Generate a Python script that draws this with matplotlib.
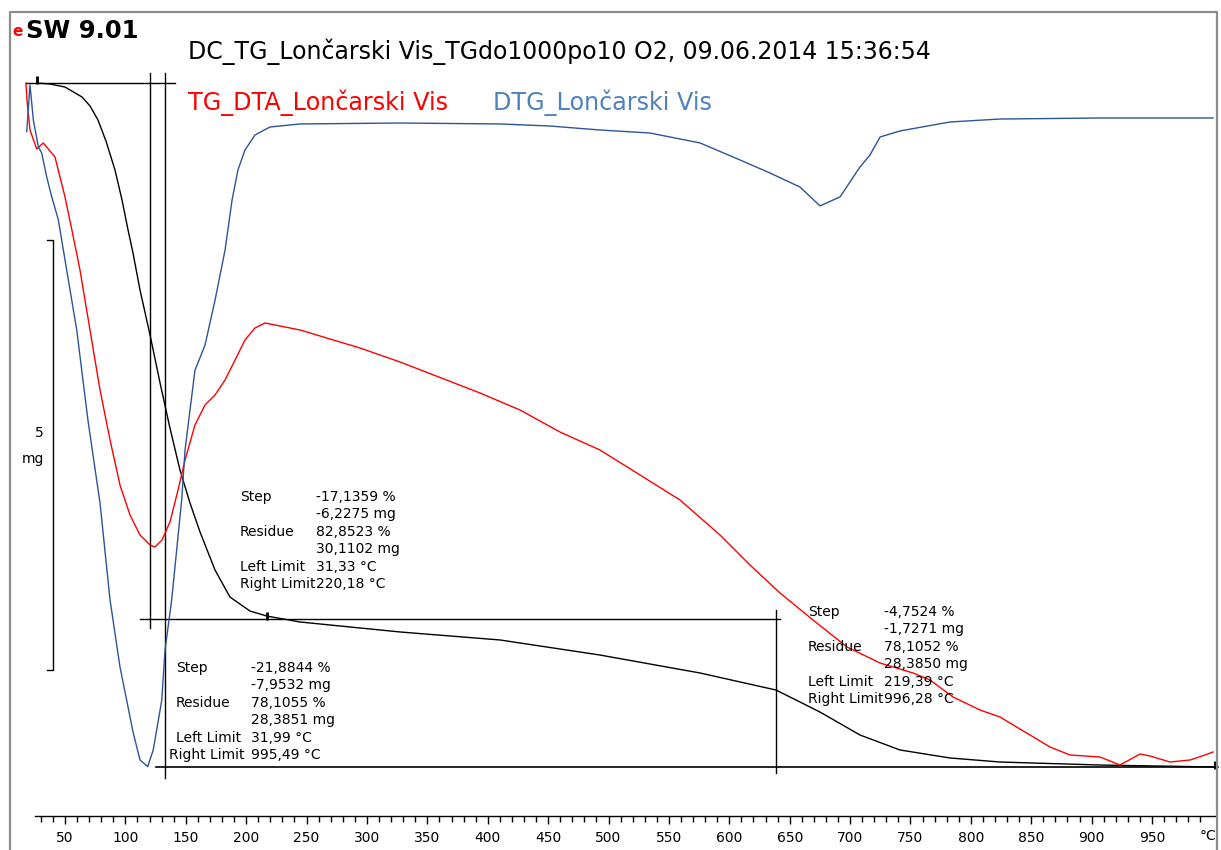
import matplotlib
matplotlib.use('Agg')
import matplotlib.pyplot as plt
from matplotlib.lines import Line2D
from matplotlib.ticker import FixedLocator

# TG (mg) vs temperature (°C)
tg_temp = [26.8, 37.6, 50.0, 64.1, 70.7, 77.3, 83.9, 91.4, 97.2, 102.2, 106.3, 112.1, 120.4,
           128.7, 136.9, 145.2, 153.5, 161.8, 174.2, 186.6, 203.2, 217.2, 244.6, 327.4,
           410.2, 492.9, 575.8, 638.7, 675.1, 708.2, 741.3, 782.7, 824.1, 906.9, 1002.1]
tg_mass = [36.338, 36.326, 36.291, 36.175, 36.071, 35.908, 35.664, 35.326, 34.978, 34.629,
           34.361, 33.931, 33.408, 32.850, 32.326, 31.838, 31.454, 31.117, 30.675, 30.361,
           30.198, 30.140, 30.071, 29.955, 29.862, 29.687, 29.478, 29.280, 29.024, 28.757,
           28.583, 28.490, 28.443, 28.408, 28.385]

# DTA (µV) vs temperature
dta_temp = [17.7, 18.5, 21.0, 26.6, 32.0, 41.7, 50.0, 56.9, 62.4, 70.7, 79.0, 87.3, 95.5,
            103.8, 112.1, 120.4, 124.5, 130.3, 136.9, 143.6, 149.4, 157.6, 165.9, 174.2,
            182.5, 190.8, 199.0, 207.3, 215.6, 244.6, 294.2, 327.4, 393.6, 426.7, 459.8,
            492.9, 526.1, 559.2, 592.3, 617.1, 642.0, 669.3, 697.5, 724.8, 752.1, 766.2,
            785.2, 807.6, 824.1, 865.5, 882.1, 906.9, 923.5, 940.1, 948.3, 964.9, 981.5,
            993.9, 1000.5]
dta_val = [34.2, 33.35, 31.85, 30.9, 31.2, 30.5, 28.5, 26.5, 24.85, 21.85, 18.85, 16.35,
           14.1, 12.6, 11.6, 11.1, 11.0, 11.35, 12.25, 13.85, 15.35, 17.1, 18.1, 18.6,
           19.35, 20.35, 21.35, 21.95, 22.2, 21.85, 20.95, 20.25, 18.7, 17.85, 16.75,
           15.85, 14.6, 13.35, 11.6, 10.1, 8.7, 7.35, 6.0, 5.2, 4.7, 4.35, 3.5, 2.85, 2.5,
           1.0, 0.6, 0.5, 0.1, 0.65, 0.55, 0.25, 0.35, 0.6, 0.75]

# DTG (mg/min) vs temperature
dtg_temp = [18.3, 21.0, 23.8, 27.9, 30.7, 34.8, 39.0, 44.5, 51.4, 59.7, 69.0, 79.0, 87.3,
            95.5, 106.5, 112.1, 118.5, 123.1, 130.1, 132.8, 138.3, 146.6, 149.4, 153.5,
            157.6, 165.9, 174.2, 182.5, 188.3, 193.2, 199.0, 207.3, 219.7, 244.6, 327.4,
            410.2, 451.6, 492.9, 534.3, 575.8, 608.9, 633.7, 658.5, 675.1, 691.7, 708.2,
            716.5, 724.8, 741.3, 782.7, 824.1, 906.9, 1000.5]
dtg_val = [-0.0104, 0.0623, 0.0078, -0.0338, -0.0436, -0.0805, -0.1117, -0.148, -0.226,
           -0.319, -0.460, -0.589, -0.740, -0.844, -0.947, -0.989, -0.9995, -0.973, -0.896,
           -0.818, -0.740, -0.584, -0.506, -0.444, -0.382, -0.343, -0.273, -0.195, -0.117,
           -0.070, -0.039, -0.0156, -0.0031, 0.0016, 0.0031, 0.0016, -0.0016, -0.0078,
           -0.0125, -0.028, -0.0545, -0.0748, -0.0966, -0.126, -0.112, -0.0654, -0.0467,
           -0.0187, -0.0093, 0.0047, 0.0093, 0.0109, 0.0109]

# evaluation lines (°C, mg)
start_mass = 36.338
step_masses = [30.111, 28.385]
limit_temps = [120.4, 132.8, 638.7]

step1 = [('Step', '-17,1359 %'), ('', '-6,2275 mg'), ('Residue', '82,8523 %'),
         ('', '30,1102 mg'), ('Left Limit', '31,33 °C'), ('Right Limit', '220,18 °C')]
step_total = [('Step', '-21,8844 %'), ('', '-7,9532 mg'), ('Residue', '78,1055 %'),
              ('', '28,3851 mg'), ('Left Limit', '31,99 °C'), ('Right Limit', '995,49 °C')]
step2 = [('Step', '-4,7524 %'), ('', '-1,7271 mg'), ('Residue', '78,1052 %'),
         ('', '28,3850 mg'), ('Left Limit', '219,39 °C'), ('Right Limit', '996,28 °C')]

W, H = 1221, 850
fig = plt.figure(figsize=(W / 100, H / 100), dpi=100)


def fx(x):
    return x / W


def fy(y):
    return 1 - y / H


# outer frame
fig.add_artist(Line2D([fx(10), fx(10), fx(1217), fx(1217)],
                      [fy(850), fy(12), fy(12), fy(850)], color='#8c8c8c', lw=1.6))

xlim = (-3.82, 1007.1)
ax = fig.add_axes([0, 0, 1, 1])
ax.set_xlim(xlim)
ax.set_ylim(27.420, 37.303)
ax.axis('off')

ax_dta = ax.twinx()
ax_dta.set_ylim(-4.15, 38.35)
ax_dta.axis('off')
ax_dtg = ax.twinx()
ax_dtg.set_ylim(-1.1293, 0.1947)
ax_dtg.axis('off')

ax_dta.plot(dta_temp, dta_val, color='#ff0000', lw=1.0)
ax_dtg.plot(dtg_temp, dtg_val, color='#2b5597', lw=1.0)
ax.plot(tg_temp, tg_mass, color='black', lw=1.0)

# evaluation construction lines
ax.plot([17.7, 141.1], [start_mass, start_mass], color='black', lw=1.0)
ax.plot([112.1, 642.0], [step_masses[0], step_masses[0]], color='black', lw=1.0)
ax.plot([125.3, 1004.6], [step_masses[1], step_masses[1]], color='black', lw=1.2)
ax.plot([limit_temps[0]] * 2, [36.454, 29.999], color='black', lw=1.0)
ax.plot([limit_temps[1]] * 2, [36.454, 28.257], color='black', lw=1.0)
ax.plot([limit_temps[2]] * 2, [30.21, 28.31], color='black', lw=1.0)
ax.plot([26.8, 217.2, 1002.1], [start_mass + 0.04, step_masses[0] + 0.03, step_masses[1] + 0.02],
        ls='none', marker='|', ms=6, mew=2, color='black')

# 5 mg scale bracket
ax.plot([35.1, 40.1, 40.1, 35.1], [34.51, 34.51, 29.51, 29.51], color='black', lw=1.0)
fig.text(fx(44), fy(433), '5', ha='right', va='center', fontsize=10)
fig.text(fx(44), fy(459), 'mg', ha='right', va='center', fontsize=10)

# temperature axis
axt = fig.add_axes([0, fy(816), 1, 0.0001])
axt.set_xlim(xlim)
for s in ['left', 'right', 'top']:
    axt.spines[s].set_visible(False)
axt.spines['bottom'].set_bounds(25.2, 1002)
axt.spines['bottom'].set_linewidth(1.0)
axt.set_yticks([])
axt.set_xticks(range(50, 1000, 50))
axt.xaxis.set_minor_locator(FixedLocator([t for t in range(30, 1000, 10) if t % 50]))
axt.set_xlim(xlim)
axt.tick_params(axis='x', which='major', direction='out', length=6, width=1, labelsize=10, pad=5)
axt.tick_params(axis='x', which='minor', direction='out', length=4, width=1)
axt.patch.set_visible(False)
fig.text(fx(1216), fy(836), '°C', ha='right', va='center', fontsize=10)

# header texts
fig.text(fx(26), fy(31), 'SW 9.01', fontsize=17.5, fontweight='bold', va='center')
fig.text(fx(12), fy(31), 'e', fontsize=11, fontweight='bold', color='red', va='center')
fig.text(fx(188), fy(52), 'DC_TG_Lončarski Vis_TGdo1000po10 O2, 09.06.2014 15:36:54',
         fontsize=17, va='center')
fig.text(fx(188), fy(103), 'TG_DTA_Lončarski Vis', fontsize=17.2, color='#ff0000', va='center')
fig.text(fx(493), fy(103), 'DTG_Lončarski Vis', fontsize=17.2, color='#4f81bd', va='center')


def block(rows, x_lab, x_val, y0, dy=17.4, x_last=None):
    for i, (lab, val) in enumerate(rows):
        y = y0 + i * dy
        if lab:
            xl = x_last if (x_last is not None and i == len(rows) - 1) else x_lab
            fig.text(fx(xl), fy(y), lab, fontsize=10, va='center')
        fig.text(fx(x_val), fy(y), val, fontsize=10, va='center')


block(step1, 240, 316, 497)
block(step_total, 176, 251, 668, x_last=169)
block(step2, 808, 884, 612)

fig.savefig('out.png', dpi=100)
